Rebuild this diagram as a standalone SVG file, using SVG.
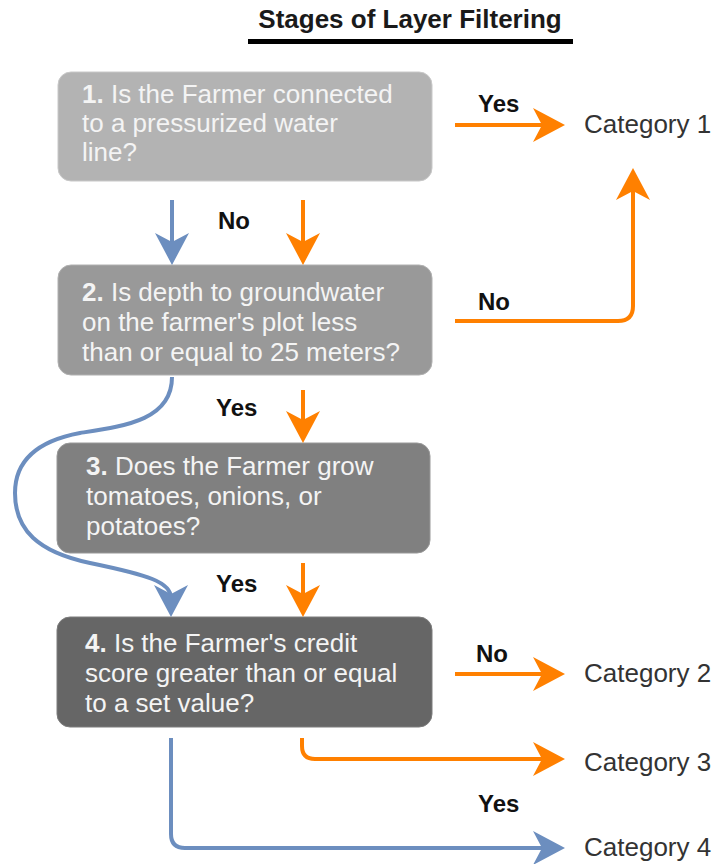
<svg xmlns="http://www.w3.org/2000/svg" width="720" height="864" viewBox="0 0 720 864">
<defs>
<style>
.box{stroke-width:1}
.bt{font-family:"Liberation Sans",Arial,sans-serif;font-size:26px;fill:#f4f4f4}
.num{font-weight:bold}
.lbl{font-family:"Liberation Sans",Arial,sans-serif;font-size:24px;font-weight:bold;fill:#111}
.cat{font-family:"Liberation Sans",Arial,sans-serif;font-size:26px;fill:#333}
.title{font-family:"Liberation Sans",Arial,sans-serif;font-size:26px;font-weight:bold;fill:#1a1a1a}
.or{fill:none;stroke:#ff8000;stroke-width:4}
.bl{fill:none;stroke:#6c8ebf;stroke-width:4}
</style>
<marker id="ao" markerUnits="userSpaceOnUse" viewBox="-24 -20 36 40" markerWidth="36" markerHeight="40" refX="0" refY="0" orient="auto" overflow="visible">
<path d="M10,0 L-22,-17 L-13,0 L-22,17 Z" fill="#ff8000"/>
</marker>
<marker id="ab" markerUnits="userSpaceOnUse" viewBox="-24 -20 36 40" markerWidth="36" markerHeight="40" refX="0" refY="0" orient="auto" overflow="visible">
<path d="M10,0 L-22,-17 L-13,0 L-22,17 Z" fill="#6c8ebf"/>
</marker>
</defs>
<rect width="720" height="864" fill="#ffffff"/>
<g id="title">
<text class="title" x="410" y="28" text-anchor="middle">Stages of Layer Filtering</text>
<rect x="248" y="39" width="325" height="5" fill="#000"/>
</g>
<g id="node1">
<rect class="box" x="58" y="72" width="374" height="109" rx="13" fill="#b3b3b3" stroke="#c8c8c8"/>
<text class="bt" x="82" y="103"><tspan class="num">1.</tspan> Is the Farmer connected</text>
<text class="bt" x="82" y="132">to a pressurized water</text>
<text class="bt" x="82" y="161">line?</text>
</g>
<g id="node2">
<rect class="box" x="58" y="265" width="374" height="110" rx="13" fill="#999999" stroke="#b0b0b0"/>
<text class="bt" x="82" y="301"><tspan class="num">2.</tspan> Is depth to groundwater</text>
<text class="bt" x="82" y="331">on the farmer's plot less</text>
<text class="bt" x="82" y="361">than or equal to 25 meters?</text>
</g>
<g id="node3">
<rect class="box" x="57" y="443" width="373" height="110" rx="13" fill="#808080" stroke="#989898"/>
<text class="bt" x="86" y="475"><tspan class="num">3.</tspan> Does the Farmer grow</text>
<text class="bt" x="86" y="505">tomatoes, onions, or</text>
<text class="bt" x="86" y="535">potatoes?</text>
</g>
<g id="node4">
<rect class="box" x="57" y="617" width="375" height="110" rx="13" fill="#666666" stroke="#7c7c7c"/>
<text class="bt" x="85" y="652"><tspan class="num">4.</tspan> Is the Farmer's credit</text>
<text class="bt" x="85" y="682">score greater than or equal</text>
<text class="bt" x="85" y="712">to a set value?</text>
</g>
<g id="cat1"><text class="cat" x="584" y="133">Category 1</text></g>
<g id="cat2"><text class="cat" x="584" y="682">Category 2</text></g>
<g id="cat3"><text class="cat" x="584" y="771">Category 3</text></g>
<g id="cat4"><text class="cat" x="584" y="856">Category 4</text></g>
<g id="connectors">
<path class="or" d="M455,125 H555" marker-end="url(#ao)"/>
<path class="or" d="M455,321 H618 Q633,321 633,306 V178" marker-end="url(#ao)"/>
<path class="bl" d="M172,200 V255" marker-end="url(#ab)"/>
<path class="or" d="M303,200 V255" marker-end="url(#ao)"/>
<path class="or" d="M303,390 V433" marker-end="url(#ao)"/>
<path class="or" d="M303,563 V607" marker-end="url(#ao)"/>
<path class="bl" d="M172,377 C172,420 125,426 80,433 C32,442 15,465 15,493 C15,530 38,552 90,563 C148,575 171,582 171,598 V607" marker-end="url(#ab)"/>
<path class="or" d="M455,674 H555" marker-end="url(#ao)"/>
<path class="or" d="M302,738 V746 Q302,759 315,759 H555" marker-end="url(#ao)"/>
<path class="bl" d="M171,738 V834 Q171,848 185,848 H555" marker-end="url(#ab)"/>
<text class="lbl" x="478" y="112">Yes</text>
<text class="lbl" x="478" y="310">No</text>
<text class="lbl" x="218" y="229">No</text>
<text class="lbl" x="216" y="416">Yes</text>
<text class="lbl" x="216" y="592">Yes</text>
<text class="lbl" x="476" y="662">No</text>
<text class="lbl" x="478" y="812">Yes</text>
</g>
</svg>
